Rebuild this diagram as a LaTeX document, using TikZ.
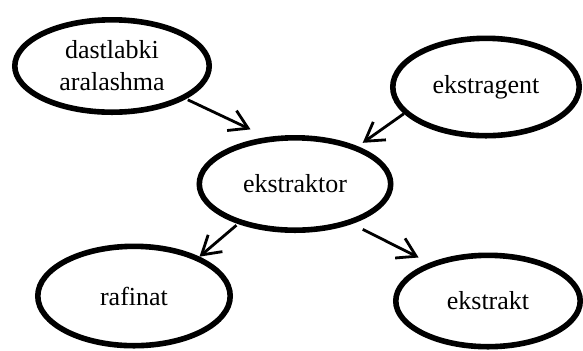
\documentclass[tikz,border=0pt]{standalone}
\usepackage{fontspec}
\setmainfont{Liberation Serif}
\usetikzlibrary{arrows.meta, shapes.geometric}

\begin{document}
\begin{tikzpicture}[
  x=0.5pt, y=-0.5pt,
  font=\fontsize{13}{16}\selectfont,
  oval/.style={ellipse, draw, line width=2.8pt, inner sep=0pt, align=center},
  arr/.style={-{Straight Barb[length=9pt, width=11pt]}, line width=1.4pt}
]
\useasboundingbox (0,0) rectangle (583,350);
\node[oval, minimum width=97.2pt, minimum height=46.2pt] (mix) at (112,66) {dastlabki\\ aralashma};
\node[oval, minimum width=93.2pt, minimum height=48.7pt] (solv) at (486,87) {ekstragent};
\node[oval, minimum width=95.7pt, minimum height=46.2pt] (extr) at (295,184) {ekstraktor};
\node[oval, minimum width=96.2pt, minimum height=49.7pt] (raf) at (134,296) {rafinat};
\node[oval, minimum width=92.2pt, minimum height=45.7pt] (ext) at (488,301) {ekstrakt};
\draw[arr, shorten <=1pt, shorten >=9pt] (mix.-24) -- (extr.121);
\draw[arr, shorten >=3pt] (solv.198) -- (extr.31);
\draw[arr, shorten <=1pt] (extr.215) -- (raf.31);
\draw[arr, shorten <=6pt, shorten >=6pt] (extr.-35) -- (ext.147);
\end{tikzpicture}
\end{document}
